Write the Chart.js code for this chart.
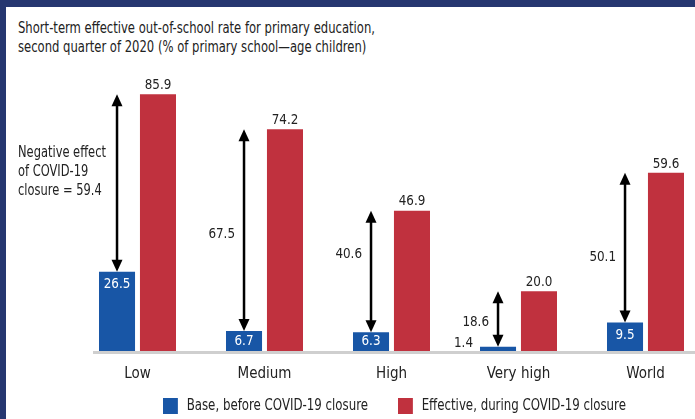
<!DOCTYPE html>
<html>
<head>
<meta charset="utf-8">
<script src="https://cdn.jsdelivr.net/npm/chart.js@4"></script>
<style>
  html, body { margin: 0; padding: 0; }
  body { width: 695px; height: 419px; overflow: hidden; background: #263770; position: relative;
         font-family: 'DejaVu Sans Condensed', sans-serif; font-stretch: condensed; }
  #panel { position: absolute; left: 6px; top: 7px; right: 0; bottom: 0; background: #fff; }
  #wrap { position: absolute; left: 0; top: 0; width: 720px; height: 419px; }
  .title { position: absolute; left: 18px; font-size: 15px; color: #222; white-space: nowrap; line-height: 19px;
           transform: scaleX(0.86); transform-origin: left top; }
  .legend { position: absolute; top: 396px; font-size: 15px; color: #222; white-space: nowrap;
            transform: scaleX(0.875); transform-origin: left top; }
  .legend span { display: inline-block; width: 17px; height: 16px; vertical-align: middle; margin-right: 10px; }
</style>
</head>
<body>
<div id="panel"></div>
<div class="title" style="top:19px">Short-term effective out-of-school rate for primary education,<br>second quarter of 2020 (% of primary school—age children)</div>
<div id="wrap"><canvas id="chart"></canvas></div>
<div class="legend" style="left:163px"><span style="background:#1856a6"></span>Base, before COVID-19 closure</div>
<div class="legend" style="left:398px"><span style="background:#c0313e"></span>Effective, during COVID-19 closure</div>
<script>
const categories = ['Low', 'Medium', 'High', 'Very high', 'World'];
const baseRates = [26.5, 6.7, 6.3, 1.4, 9.5];
const effectiveRates = [85.9, 74.2, 46.9, 20.0, 59.6];
const closureEffects = [59.4, 67.5, 40.6, 18.6, 50.1];

const FONT = "'DejaVu Sans Condensed', sans-serif";
const BLUE = '#1856a6';
const RED = '#c0313e';

// небольшие сдвиги подписей стрелок по вертикали
const effectNudge = [-11, 4, -17, 3, 10];

// текст чуть уже, как в оригинале
function narrowText(ctx, text, x, y, sx) {
  ctx.save();
  ctx.translate(x, y);
  ctx.scale(sx, 1);
  ctx.fillText(text, 0, 0);
  ctx.restore();
}

function drawArrow(ctx, x, yTop, yBottom) {
  const head = 12, half = 5.5;
  ctx.strokeStyle = '#000';
  ctx.fillStyle = '#000';
  ctx.lineWidth = 2.5;
  ctx.beginPath();
  ctx.moveTo(x, yTop + head - 2);
  ctx.lineTo(x, yBottom - head + 2);
  ctx.stroke();
  ctx.beginPath();
  ctx.moveTo(x, yTop);
  ctx.lineTo(x - half, yTop + head);
  ctx.lineTo(x + half, yTop + head);
  ctx.closePath();
  ctx.fill();
  ctx.beginPath();
  ctx.moveTo(x, yBottom);
  ctx.lineTo(x - half, yBottom - head);
  ctx.lineTo(x + half, yBottom - head);
  ctx.closePath();
  ctx.fill();
}

const annotations = {
  id: 'annotations',
  beforeDatasetsDraw(chart) {
    const ctx = chart.ctx;
    const y0 = chart.scales.y.getPixelForValue(0);
    const first = chart.getDatasetMeta(0).data[0];
    ctx.save();
    ctx.strokeStyle = '#cfcfcf';
    ctx.lineWidth = 3;
    ctx.beginPath();
    ctx.moveTo(first.x - first.width / 2 - 6, y0 + 1.5);
    ctx.lineTo(chart.width, y0 + 1.5);
    ctx.stroke();
    ctx.restore();
  },
  afterDatasetsDraw(chart) {
    const ctx = chart.ctx;
    const yScale = chart.scales.y;
    const blue = chart.getDatasetMeta(0).data;
    const red = chart.getDatasetMeta(1).data;
    ctx.save();
    ctx.font = '14px ' + FONT;

    categories.forEach((c, i) => {
      // значения красных столбцов
      ctx.fillStyle = '#222';
      ctx.textAlign = 'center';
      ctx.textBaseline = 'bottom';
      narrowText(ctx, effectiveRates[i].toFixed(1), red[i].x, red[i].y - 2, 0.95);

      // значения синих столбцов
      const b = blue[i];
      const h = b.base - b.y;
      ctx.textBaseline = 'middle';
      if (h > 12) {
        ctx.fillStyle = '#fff';
        ctx.textAlign = 'center';
        narrowText(ctx, baseRates[i].toFixed(1), b.x, b.y + Math.min(13, h / 2), 0.95);
      } else {
        ctx.fillStyle = '#222';
        ctx.textAlign = 'right';
        narrowText(ctx, baseRates[i].toFixed(1), b.x - b.width / 2 - 7, b.y - 3, 0.95);
      }

      // стрелка разницы
      const yTop = yScale.getPixelForValue(effectiveRates[i]);
      drawArrow(ctx, b.x, yTop, b.y);

      const yMid = (yTop + b.y) / 2 + effectNudge[i];
      ctx.fillStyle = '#222';
      ctx.textBaseline = 'middle';
      if (i === 0) {
        ctx.font = '15px ' + FONT;
        ctx.textAlign = 'left';
        const lines = ['Negative effect', 'of COVID-19', 'closure = ' + closureEffects[i].toFixed(1)];
        lines.forEach((t, k) => narrowText(ctx, t, 18, yMid + (k - 1) * 19, 0.85));
        ctx.font = '14px ' + FONT;
      } else {
        ctx.textAlign = 'right';
        narrowText(ctx, closureEffects[i].toFixed(1), b.x - 9, yMid, 0.95);
      }
    });
    ctx.restore();
  }
};

new Chart(document.getElementById('chart'), {
  type: 'bar',
  data: {
    labels: categories,
    datasets: [
      { label: 'Base, before COVID-19 closure', data: baseRates, backgroundColor: BLUE,
        barPercentage: 0.88, categoryPercentage: 0.645 },
      { label: 'Effective, during COVID-19 closure', data: effectiveRates, backgroundColor: RED,
        barPercentage: 0.88, categoryPercentage: 0.645 }
    ]
  },
  options: {
    responsive: true,
    maintainAspectRatio: false,
    animation: false,
    layout: { padding: { left: 74, right: 11, top: 82, bottom: 30 } },
    plugins: { legend: { display: false }, tooltip: { enabled: false } },
    scales: {
      x: {
        grid: { display: false },
        border: { display: false },
        ticks: { color: '#222', padding: 6, font: { family: FONT, size: 15 } }
      },
      y: { display: false, min: 0, max: 90 }
    }
  },
  plugins: [annotations]
});
</script>
</body>
</html>
